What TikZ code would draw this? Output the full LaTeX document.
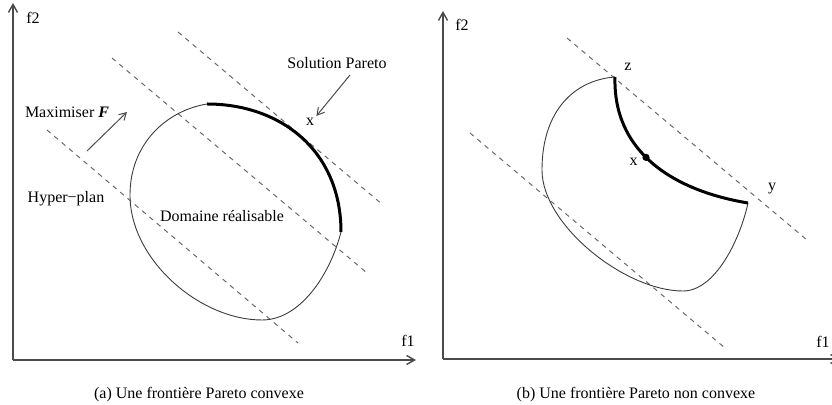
\documentclass[tikz,border=0pt]{standalone}
\usepackage{fontspec}
\setmainfont{Liberation Serif}
\usepackage{tikz}
\usetikzlibrary{arrows.meta,calc,positioning}
\definecolor{axgray}{RGB}{75,75,75}
\definecolor{hypgray}{RGB}{105,105,105}
\definecolor{dombord}{RGB}{60,60,60}
\tikzset{
  axisline/.style={draw=axgray,line width=.7pt,-{Straight Barb[length=4pt,width=4.5pt]}},
  hyp/.style={draw=hypgray,line width=.5pt,dash pattern=on 2.4pt off 2.4pt},
  domline/.style={draw=dombord,line width=.45pt},
  front/.style={draw=black,line width=1.5pt},
  lab/.style={inner sep=1pt,font=\fontsize{8}{9.5}\selectfont},
  pointer/.style={draw=axgray,line width=.5pt,-{Straight Barb[length=3.5pt,width=4pt]}}
}
\newcommand{\hypline}[4]{%
  \draw[hyp] (#1,#2) -- (#3,#4);
}
\begin{document}
\begin{tikzpicture}[x=.5pt,y=-.5pt]
    \useasboundingbox (0,0) rectangle (832,405);
    \clip (0,0) rectangle (832,405);
    % (a) frontiere convexe
    \coordinate (oa) at (13,360);
    \coordinate (ya) at (13,3);
    \coordinate (xa) at (416,360);
    \draw[axisline] (oa) -- (ya);
    \draw[axisline] (oa) -- (xa);
    \node[lab] (f2a) at (33,18) {f2};
    \node[lab] (f1a) at (408,341) {f1};
    \hypline{47}{130}{298}{343}
    \hypline{112}{58}{367}{273}
    \hypline{178}{32}{383}{205}
    \coordinate (pa) at (207,104);
    \coordinate (qa) at (341,232);
    \draw[domline] (pa) .. controls (165,111) and (130,145) .. (130,195)
      .. controls (130,260) and (200,320) .. (262,320)
      .. controls (300,320) and (330,275) .. (qa);
    \draw[front] (pa) .. controls (280,104) and (341,150) .. (qa);
    \node[lab] (solpar) at (337,63) {Solution Pareto};
    \node[lab] (xsol) at (310,122) {x};
    \coordinate (sp0) at (350,75);
    \draw[pointer] (sp0) -- (xsol.north east);
    \node[lab] (maxf) at (67,112) {Maximiser \textbf{\textit{F}}};
    \coordinate (mx0) at (87,151);
    \coordinate (mx1) at (127,112);
    \draw[pointer] (mx0) -- (mx1);
    \node[lab] (hyper) at (66,199) {Hyper−plan};
    \node[lab] (domr) at (222,216) {Domaine réalisable};
    \node[lab] (capa) at (199,395) {(a) Une frontière Pareto convexe};
    % (b) frontiere non convexe
    \coordinate (ob) at (443,359);
    \coordinate (yb) at (443,11);
    \coordinate (xb) at (840,359);
    \draw[axisline] (ob) -- (yb);
    \draw[axisline] (ob) -- (xb);
    \node[lab] (f2b) at (462,25) {f2};
    \node[lab,anchor=east] (f1b) at (832,342) {f1};
    \hypline{567}{38}{807}{240}
    \hypline{470}{133}{725}{348}
    \coordinate (zc) at (615,77);
    \coordinate (yc) at (748,203);
    \draw[domline] (zc) .. controls (575,80) and (542,110) .. (542,170)
      .. controls (542,225) and (625,291) .. (683,291)
      .. controls (715,291) and (740,240) .. (yc);
    \draw[front] (zc) .. controls (613,150) and (670,190) .. (yc)
      coordinate[pos=.46] (xdot);
    \fill (xdot) circle (3.6);
    \node[lab] (zpt) at (628,67) {z};
    \node[lab,left=3pt of xdot,yshift=-2pt] (xpt) {x};
    \node[lab] (ypt) at (772,189) {y};
    \node[lab] (capb) at (636,395) {(b) Une frontière Pareto non convexe};
  \end{tikzpicture}
\end{document}
